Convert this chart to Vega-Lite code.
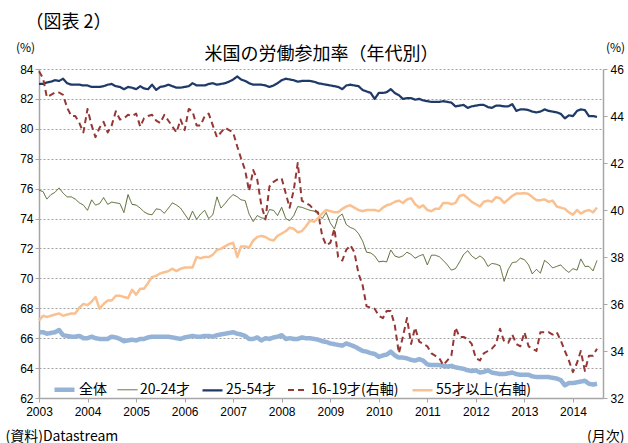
{
  "$schema": "https://vega.github.io/schema/vega-lite/v6.json",
  "width": 564,
  "height": 329,
  "autosize": {"type": "none"},
  "padding": {"left": 39, "top": 69, "right": 25, "bottom": 45},
  "background": "#ffffff",
  "config": {
    "view": {"stroke": null},
    "font": "Noto Sans CJK JP",
    "axis": {"labelFont": "Liberation Sans", "labelFontSize": 12, "labelColor": "#000000", "titleColor": "#000000", "titleFont": "Noto Sans CJK JP", "titleFontWeight": "normal", "labelFlush": false, "labelOverlap": false, "labelBound": false},
    "legend": {"orient": "none", "legendX": 13, "legendY": 308, "direction": "horizontal", "symbolType": "stroke", "symbolSize": 400, "labelFont": "Noto Sans CJK JP", "labelFontSize": 14, "labelColor": "#000000", "columnPadding": 8, "labelOffset": 2, "padding": 0}
  },
  "data": {"values": [
    {"月":"2003-01-01","全体":66.4,"20-24才":75.9,"25-54才":83.0,"16-19才(右軸)":45.9,"55才以上(右軸)":35.3},
    {"月":"2003-02-01","全体":66.4,"20-24才":75.8,"25-54才":83.0,"16-19才(右軸)":45.6,"55才以上(右軸)":35.5},
    {"月":"2003-03-01","全体":66.3,"20-24才":75.3,"25-54才":83.1,"16-19才(右軸)":44.8,"55才以上(右軸)":35.45},
    {"月":"2003-04-01","全体":66.35,"20-24才":75.6,"25-54才":83.15,"16-19才(右軸)":44.9,"55才以上(右軸)":35.5},
    {"月":"2003-05-01","全体":66.4,"20-24才":75.75,"25-54才":83.25,"16-19才(右軸)":45.0,"55才以上(右軸)":35.55},
    {"月":"2003-06-01","全体":66.55,"20-24才":76.05,"25-54才":83.2,"16-19才(右軸)":45.0,"55才以上(右軸)":35.6},
    {"月":"2003-07-01","全体":66.2,"20-24才":75.7,"25-54才":83.35,"16-19才(右軸)":44.9,"55才以上(右軸)":35.5},
    {"月":"2003-08-01","全体":66.15,"20-24才":75.45,"25-54才":83.05,"16-19才(右軸)":44.35,"55才以上(右軸)":35.55},
    {"月":"2003-09-01","全体":66.1,"20-24才":75.45,"25-54才":82.95,"16-19才(右軸)":44.0,"55才以上(右軸)":35.6},
    {"月":"2003-10-01","全体":66.1,"20-24才":75.3,"25-54才":82.95,"16-19才(右軸)":44.0,"55才以上(右軸)":35.6},
    {"月":"2003-11-01","全体":66.15,"20-24才":75.05,"25-54才":82.95,"16-19才(右軸)":43.7,"55才以上(右軸)":35.85},
    {"月":"2003-12-01","全体":66.0,"20-24才":74.9,"25-54才":82.9,"16-19才(右軸)":43.3,"55才以上(右軸)":36.0},
    {"月":"2004-01-01","全体":66.0,"20-24才":74.55,"25-54才":82.9,"16-19才(右軸)":44.3,"55才以上(右軸)":35.95},
    {"月":"2004-02-01","全体":66.1,"20-24才":75.25,"25-54才":82.8,"16-19才(右軸)":43.6,"55才以上(右軸)":36.1},
    {"月":"2004-03-01","全体":66.0,"20-24才":74.9,"25-54才":82.8,"16-19才(右軸)":43.1,"55才以上(右軸)":36.3},
    {"月":"2004-04-01","全体":65.95,"20-24才":75.0,"25-54才":82.8,"16-19才(右軸)":43.5,"55才以上(右軸)":35.8},
    {"月":"2004-05-01","全体":65.95,"20-24才":75.4,"25-54才":82.85,"16-19才(右軸)":43.75,"55才以上(右軸)":36.0},
    {"月":"2004-06-01","全体":65.95,"20-24才":74.95,"25-54才":82.95,"16-19才(右軸)":43.3,"55才以上(右軸)":36.15},
    {"月":"2004-07-01","全体":66.1,"20-24才":75.1,"25-54才":83.0,"16-19才(右軸)":43.6,"55才以上(右軸)":36.15},
    {"月":"2004-08-01","全体":66.05,"20-24才":75.05,"25-54才":82.85,"16-19才(右軸)":44.2,"55才以上(右軸)":36.35},
    {"月":"2004-09-01","全体":65.95,"20-24才":75.0,"25-54才":82.8,"16-19才(右軸)":43.85,"55才以上(右軸)":36.35},
    {"月":"2004-10-01","全体":65.8,"20-24才":74.4,"25-54才":82.65,"16-19才(右軸)":43.9,"55才以上(右軸)":36.3},
    {"月":"2004-11-01","全体":65.85,"20-24才":75.6,"25-54才":82.8,"16-19才(右軸)":44.05,"55才以上(右軸)":36.25},
    {"月":"2004-12-01","全体":65.9,"20-24才":74.95,"25-54才":82.75,"16-19才(右軸)":44.0,"55才以上(右軸)":36.6},
    {"月":"2005-01-01","全体":65.85,"20-24才":74.9,"25-54才":82.65,"16-19才(右軸)":44.1,"55才以上(右軸)":36.4},
    {"月":"2005-02-01","全体":65.95,"20-24才":74.7,"25-54才":82.85,"16-19才(右軸)":43.55,"55才以上(右軸)":36.65},
    {"月":"2005-03-01","全体":65.95,"20-24才":74.45,"25-54才":82.7,"16-19才(右軸)":43.9,"55才以上(右軸)":36.65},
    {"月":"2005-04-01","全体":66.05,"20-24才":74.3,"25-54才":82.65,"16-19才(右軸)":44.0,"55才以上(右軸)":36.9},
    {"月":"2005-05-01","全体":66.1,"20-24才":74.25,"25-54才":82.95,"16-19才(右軸)":44.05,"55才以上(右軸)":37.15},
    {"月":"2005-06-01","全体":66.1,"20-24才":74.65,"25-54才":82.6,"16-19才(右軸)":43.8,"55才以上(右軸)":37.2},
    {"月":"2005-07-01","全体":66.1,"20-24才":74.6,"25-54才":82.8,"16-19才(右軸)":43.7,"55才以上(右軸)":37.3},
    {"月":"2005-08-01","全体":66.1,"20-24才":74.35,"25-54才":82.85,"16-19才(右軸)":44.05,"55才以上(右軸)":37.35},
    {"月":"2005-09-01","全体":66.1,"20-24才":74.7,"25-54才":82.95,"16-19才(右軸)":43.8,"55才以上(右軸)":37.4},
    {"月":"2005-10-01","全体":66.05,"20-24才":75.05,"25-54才":82.85,"16-19才(右軸)":43.55,"55才以上(右軸)":37.5},
    {"月":"2005-11-01","全体":66.0,"20-24才":74.9,"25-54才":82.75,"16-19才(右軸)":43.3,"55才以上(右軸)":37.4},
    {"月":"2005-12-01","全体":65.95,"20-24才":74.7,"25-54才":82.75,"16-19才(右軸)":43.85,"55才以上(右軸)":37.5},
    {"月":"2006-01-01","全体":66.05,"20-24才":74.3,"25-54才":82.8,"16-19才(右軸)":43.4,"55才以上(右軸)":37.55},
    {"月":"2006-02-01","全体":66.1,"20-24才":73.9,"25-54才":82.85,"16-19才(右軸)":44.3,"55才以上(右軸)":37.55},
    {"月":"2006-03-01","全体":66.15,"20-24才":74.5,"25-54才":83.05,"16-19才(右軸)":44.2,"55才以上(右軸)":37.55},
    {"月":"2006-04-01","全体":66.1,"20-24才":73.95,"25-54才":82.9,"16-19才(右軸)":43.6,"55才以上(右軸)":38.0},
    {"月":"2006-05-01","全体":66.1,"20-24才":74.3,"25-54才":82.9,"16-19才(右軸)":43.6,"55才以上(右軸)":37.95},
    {"月":"2006-06-01","全体":66.15,"20-24才":74.55,"25-54才":82.9,"16-19才(右軸)":44.0,"55才以上(右軸)":38.0},
    {"月":"2006-07-01","全体":66.15,"20-24才":74.0,"25-54才":83.0,"16-19才(右軸)":44.1,"55才以上(右軸)":38.0},
    {"月":"2006-08-01","全体":66.1,"20-24才":74.25,"25-54才":83.05,"16-19才(右軸)":43.6,"55才以上(右軸)":38.1},
    {"月":"2006-09-01","全体":66.2,"20-24才":75.45,"25-54才":82.95,"16-19才(右軸)":43.1,"55才以上(右軸)":38.3},
    {"月":"2006-10-01","全体":66.25,"20-24才":74.7,"25-54才":83.0,"16-19才(右軸)":43.3,"55才以上(右軸)":38.35},
    {"月":"2006-11-01","全体":66.3,"20-24才":75.0,"25-54才":83.05,"16-19才(右軸)":43.5,"55才以上(右軸)":38.45},
    {"月":"2006-12-01","全体":66.35,"20-24才":75.35,"25-54才":83.15,"16-19才(右軸)":43.4,"55才以上(右軸)":38.55},
    {"月":"2007-01-01","全体":66.4,"20-24才":75.6,"25-54才":83.3,"16-19才(右軸)":43.3,"55才以上(右軸)":38.6},
    {"月":"2007-02-01","全体":66.3,"20-24才":75.45,"25-54才":83.5,"16-19才(右軸)":42.7,"55才以上(右軸)":38.0},
    {"月":"2007-03-01","全体":66.25,"20-24才":75.25,"25-54才":83.3,"16-19才(右軸)":42.2,"55才以上(右軸)":38.45},
    {"月":"2007-04-01","全体":66.15,"20-24才":75.2,"25-54才":83.2,"16-19才(右軸)":41.7,"55才以上(右軸)":38.45},
    {"月":"2007-05-01","全体":65.95,"20-24才":74.3,"25-54才":83.05,"16-19才(右軸)":40.8,"55才以上(右軸)":38.4},
    {"月":"2007-06-01","全体":65.95,"20-24才":73.8,"25-54才":82.95,"16-19才(右軸)":41.7,"55才以上(右軸)":38.7},
    {"月":"2007-07-01","全体":66.05,"20-24才":74.2,"25-54才":82.95,"16-19才(右軸)":41.3,"55才以上(右軸)":38.85},
    {"月":"2007-08-01","全体":65.85,"20-24才":74.05,"25-54才":82.95,"16-19才(右軸)":40.2,"55才以上(右軸)":38.9},
    {"月":"2007-09-01","全体":66.0,"20-24才":74.0,"25-54才":82.9,"16-19才(右軸)":39.6,"55才以上(右軸)":38.85},
    {"月":"2007-10-01","全体":65.95,"20-24才":74.6,"25-54才":82.8,"16-19才(右軸)":41.0,"55才以上(右軸)":38.75},
    {"月":"2007-11-01","全体":66.05,"20-24才":74.55,"25-54才":82.9,"16-19才(右軸)":41.2,"55才以上(右軸)":38.7},
    {"月":"2007-12-01","全体":66.1,"20-24才":74.2,"25-54才":83.05,"16-19才(右軸)":41.3,"55才以上(右軸)":38.9},
    {"月":"2008-01-01","全体":66.2,"20-24才":74.75,"25-54才":83.25,"16-19才(右軸)":41.35,"55才以上(右軸)":39.0},
    {"月":"2008-02-01","全体":65.95,"20-24才":74.0,"25-54才":83.35,"16-19才(右軸)":40.7,"55才以上(右軸)":39.1},
    {"月":"2008-03-01","全体":66.0,"20-24才":73.85,"25-54才":83.3,"16-19才(右軸)":40.1,"55才以上(右軸)":39.25},
    {"月":"2008-04-01","全体":65.95,"20-24才":74.2,"25-54才":83.25,"16-19才(右軸)":40.85,"55才以上(右軸)":39.2},
    {"月":"2008-05-01","全体":65.95,"20-24才":74.8,"25-54才":83.15,"16-19才(右軸)":42.0,"55才以上(右軸)":39.05},
    {"月":"2008-06-01","全体":66.05,"20-24才":74.75,"25-54才":83.2,"16-19才(右軸)":40.4,"55才以上(右軸)":39.1},
    {"月":"2008-07-01","全体":66.0,"20-24才":74.65,"25-54才":83.2,"16-19才(右軸)":40.3,"55才以上(右軸)":39.3},
    {"月":"2008-08-01","全体":66.0,"20-24才":74.55,"25-54才":83.2,"16-19才(右軸)":40.2,"55才以上(右軸)":39.55},
    {"月":"2008-09-01","全体":65.95,"20-24才":74.5,"25-54才":83.15,"16-19才(右軸)":40.0,"55才以上(右軸)":39.5},
    {"月":"2008-10-01","全体":65.9,"20-24才":74.3,"25-54才":83.05,"16-19才(右軸)":39.9,"55才以上(右軸)":39.65},
    {"月":"2008-11-01","全体":65.8,"20-24才":74.0,"25-54才":83.0,"16-19才(右軸)":38.9,"55才以上(右軸)":39.85},
    {"月":"2008-12-01","全体":65.75,"20-24才":74.4,"25-54才":82.95,"16-19才(右軸)":38.5,"55才以上(右軸)":40.0},
    {"月":"2009-01-01","全体":65.65,"20-24才":73.7,"25-54才":82.9,"16-19才(右軸)":38.6,"55才以上(右軸)":39.95},
    {"月":"2009-02-01","全体":65.6,"20-24才":73.3,"25-54才":82.85,"16-19才(右軸)":39.2,"55才以上(右軸)":39.9},
    {"月":"2009-03-01","全体":65.55,"20-24才":74.1,"25-54才":82.8,"16-19才(右軸)":38.0,"55才以上(右軸)":39.9},
    {"月":"2009-04-01","全体":65.5,"20-24才":74.3,"25-54才":82.65,"16-19才(右軸)":37.85,"55才以上(右軸)":40.05},
    {"月":"2009-05-01","全体":65.65,"20-24才":73.6,"25-54才":82.9,"16-19才(右軸)":38.3,"55才以上(右軸)":40.15},
    {"月":"2009-06-01","全体":65.55,"20-24才":73.4,"25-54才":82.95,"16-19才(右軸)":38.5,"55才以上(右軸)":40.2},
    {"月":"2009-07-01","全体":65.45,"20-24才":73.3,"25-54才":82.9,"16-19才(右軸)":38.2,"55才以上(右軸)":40.1},
    {"月":"2009-08-01","全体":65.3,"20-24才":73.0,"25-54才":82.85,"16-19才(右軸)":37.3,"55才以上(右軸)":40.0},
    {"月":"2009-09-01","全体":65.15,"20-24才":72.5,"25-54才":82.6,"16-19才(右軸)":36.8,"55才以上(右軸)":39.95},
    {"月":"2009-10-01","全体":65.1,"20-24才":71.75,"25-54才":82.5,"16-19才(右軸)":35.9,"55才以上(右軸)":40.0},
    {"月":"2009-11-01","全体":65.0,"20-24才":71.7,"25-54才":82.4,"16-19才(右軸)":35.85,"55才以上(右軸)":40.0},
    {"月":"2009-12-01","全体":64.95,"20-24才":71.5,"25-54才":82.0,"16-19才(右軸)":35.8,"55才以上(右軸)":40.0},
    {"月":"2010-01-01","全体":64.75,"20-24才":71.1,"25-54才":82.4,"16-19才(右軸)":35.5,"55才以上(右軸)":39.95},
    {"月":"2010-02-01","全体":64.85,"20-24才":71.15,"25-54才":82.4,"16-19才(右軸)":35.4,"55才以上(右軸)":40.1},
    {"月":"2010-03-01","全体":64.9,"20-24才":71.1,"25-54才":82.45,"16-19才(右軸)":35.7,"55才以上(右軸)":40.2},
    {"月":"2010-04-01","全体":65.1,"20-24才":71.9,"25-54才":82.65,"16-19才(右軸)":35.7,"55才以上(右軸)":40.25},
    {"月":"2010-05-01","全体":64.85,"20-24才":71.5,"25-54才":82.4,"16-19才(右軸)":35.1,"55才以上(右軸)":40.35},
    {"月":"2010-06-01","全体":64.7,"20-24才":71.4,"25-54才":82.25,"16-19才(右軸)":33.9,"55才以上(右軸)":40.4},
    {"月":"2010-07-01","全体":64.7,"20-24才":71.5,"25-54才":82.0,"16-19才(右軸)":34.6,"55才以上(右軸)":40.3},
    {"月":"2010-08-01","全体":64.65,"20-24才":71.75,"25-54才":82.05,"16-19才(右軸)":35.4,"55才以上(右軸)":40.45},
    {"月":"2010-09-01","全体":64.55,"20-24才":71.6,"25-54才":82.05,"16-19才(右軸)":34.3,"55才以上(右軸)":40.5},
    {"月":"2010-10-01","全体":64.5,"20-24才":71.35,"25-54才":81.95,"16-19才(右軸)":35.0,"55才以上(右軸)":40.25},
    {"月":"2010-11-01","全体":64.6,"20-24才":71.5,"25-54才":82.0,"16-19才(右軸)":34.4,"55才以上(右軸)":40.1},
    {"月":"2010-12-01","全体":64.5,"20-24才":71.6,"25-54才":81.9,"16-19才(右軸)":34.3,"55才以上(右軸)":40.2},
    {"月":"2011-01-01","全体":64.25,"20-24才":70.9,"25-54才":81.85,"16-19才(右軸)":34.2,"55才以上(右軸)":40.0},
    {"月":"2011-02-01","全体":64.2,"20-24才":71.55,"25-54才":81.8,"16-19才(右軸)":33.9,"55才以上(右軸)":39.95},
    {"月":"2011-03-01","全体":64.2,"20-24才":71.55,"25-54才":81.8,"16-19才(右軸)":33.8,"55才以上(右軸)":40.05},
    {"月":"2011-04-01","全体":64.2,"20-24才":71.45,"25-54才":81.8,"16-19才(右軸)":33.7,"55才以上(右軸)":40.05},
    {"月":"2011-05-01","全体":64.15,"20-24才":71.2,"25-54才":81.85,"16-19才(右軸)":33.4,"55才以上(右軸)":40.3},
    {"月":"2011-06-01","全体":64.1,"20-24才":70.9,"25-54才":81.8,"16-19才(右軸)":33.6,"55才以上(右軸)":40.3},
    {"月":"2011-07-01","全体":64.15,"20-24才":70.55,"25-54才":81.75,"16-19才(右軸)":33.8,"55才以上(右軸)":40.25},
    {"月":"2011-08-01","全体":64.05,"20-24才":70.65,"25-54才":81.5,"16-19才(右軸)":35.0,"55才以上(右軸)":40.3},
    {"月":"2011-09-01","全体":64.0,"20-24才":71.1,"25-54才":81.55,"16-19才(右軸)":34.6,"55才以上(右軸)":40.6},
    {"月":"2011-10-01","全体":63.95,"20-24才":71.6,"25-54才":81.6,"16-19才(右軸)":34.6,"55才以上(右軸)":40.65},
    {"月":"2011-11-01","全体":63.85,"20-24才":71.85,"25-54才":81.4,"16-19才(右軸)":34.5,"55才以上(右軸)":40.5},
    {"月":"2011-12-01","全体":63.8,"20-24才":71.5,"25-54才":81.5,"16-19才(右軸)":34.3,"55才以上(右軸)":40.35},
    {"月":"2012-01-01","全体":63.85,"20-24才":71.3,"25-54才":81.55,"16-19才(右軸)":33.7,"55才以上(右軸)":40.25},
    {"月":"2012-02-01","全体":63.7,"20-24才":71.5,"25-54才":81.6,"16-19才(右軸)":33.6,"55才以上(右軸)":40.15},
    {"月":"2012-03-01","全体":63.75,"20-24才":71.3,"25-54才":81.6,"16-19才(右軸)":33.9,"55才以上(右軸)":40.35},
    {"月":"2012-04-01","全体":63.85,"20-24才":70.8,"25-54才":81.45,"16-19才(右軸)":34.0,"55才以上(右軸)":40.4},
    {"月":"2012-05-01","全体":63.7,"20-24才":71.0,"25-54才":81.4,"16-19才(右軸)":34.1,"55才以上(右軸)":40.35},
    {"月":"2012-06-01","全体":63.65,"20-24才":70.95,"25-54才":81.55,"16-19才(右軸)":34.3,"55才以上(右軸)":40.55},
    {"月":"2012-07-01","全体":63.6,"20-24才":70.85,"25-54才":81.55,"16-19才(右軸)":34.95,"55才以上(右軸)":40.5},
    {"月":"2012-08-01","全体":63.6,"20-24才":69.8,"25-54才":81.5,"16-19才(右軸)":34.4,"55才以上(右軸)":40.3},
    {"月":"2012-09-01","全体":63.65,"20-24才":70.6,"25-54才":81.5,"16-19才(右軸)":34.35,"55才以上(右軸)":40.45},
    {"月":"2012-10-01","全体":63.7,"20-24才":71.05,"25-54才":81.65,"16-19才(右軸)":34.7,"55才以上(右軸)":40.6},
    {"月":"2012-11-01","全体":63.6,"20-24才":71.1,"25-54才":81.2,"16-19才(右軸)":34.3,"55才以上(右軸)":40.7},
    {"月":"2012-12-01","全体":63.55,"20-24才":71.35,"25-54才":81.3,"16-19才(右軸)":34.2,"55才以上(右軸)":40.7},
    {"月":"2013-01-01","全体":63.55,"20-24才":71.25,"25-54才":81.3,"16-19才(右軸)":34.8,"55才以上(右軸)":40.72},
    {"月":"2013-02-01","全体":63.55,"20-24才":70.9,"25-54才":81.25,"16-19才(右軸)":34.2,"55才以上(右軸)":40.68},
    {"月":"2013-03-01","全体":63.45,"20-24才":70.3,"25-54才":81.15,"16-19才(右軸)":34.1,"55才以上(右軸)":40.55},
    {"月":"2013-04-01","全体":63.4,"20-24才":70.6,"25-54才":81.1,"16-19才(右軸)":34.0,"55才以上(右軸)":40.42},
    {"月":"2013-05-01","全体":63.4,"20-24才":70.35,"25-54才":81.15,"16-19才(右軸)":34.8,"55才以上(右軸)":40.42},
    {"月":"2013-06-01","全体":63.4,"20-24才":71.2,"25-54才":81.3,"16-19才(右軸)":34.8,"55才以上(右軸)":40.45},
    {"月":"2013-07-01","全体":63.4,"20-24才":71.0,"25-54才":81.2,"16-19才(右軸)":34.8,"55才以上(右軸)":40.35},
    {"月":"2013-08-01","全体":63.35,"20-24才":70.7,"25-54才":81.15,"16-19才(右軸)":34.7,"55才以上(右軸)":40.4},
    {"月":"2013-09-01","全体":63.3,"20-24才":70.8,"25-54才":81.1,"16-19才(右軸)":34.8,"55才以上(右軸)":40.15},
    {"月":"2013-10-01","全体":63.2,"20-24才":70.9,"25-54才":81.0,"16-19才(右軸)":34.45,"55才以上(右軸)":40.1},
    {"月":"2013-11-01","全体":62.85,"20-24才":70.6,"25-54才":80.7,"16-19才(右軸)":34.0,"55才以上(右軸)":40.05},
    {"月":"2013-12-01","全体":63.0,"20-24才":70.4,"25-54才":80.9,"16-19才(右軸)":33.6,"55才以上(右軸)":39.9},
    {"月":"2014-01-01","全体":63.0,"20-24才":70.65,"25-54才":80.85,"16-19才(右軸)":33.1,"55才以上(右軸)":39.8},
    {"月":"2014-02-01","全体":63.05,"20-24才":70.55,"25-54才":81.2,"16-19才(右軸)":33.5,"55才以上(右軸)":40.0},
    {"月":"2014-03-01","全体":63.1,"20-24才":71.3,"25-54才":81.3,"16-19才(右軸)":34.0,"55才以上(右軸)":39.85},
    {"月":"2014-04-01","全体":63.15,"20-24才":70.8,"25-54才":81.25,"16-19才(右軸)":33.15,"55才以上(右軸)":39.95},
    {"月":"2014-05-01","全体":62.95,"20-24才":70.8,"25-54才":80.85,"16-19才(右軸)":33.8,"55才以上(右軸)":40.0},
    {"月":"2014-06-01","全体":62.9,"20-24才":70.5,"25-54才":80.85,"16-19才(右軸)":33.8,"55才以上(右軸)":39.9},
    {"月":"2014-07-01","全体":62.95,"20-24才":71.2,"25-54才":80.8,"16-19才(右軸)":34.1,"55才以上(右軸)":40.1}
  ]},
  "encoding": {
    "color": {"field": "系列", "type": "nominal", "title": null,
      "scale": {"domain": ["全体", "20-24才", "25-54才", "16-19才(右軸)", "55才以上(右軸)"], "range": ["#95b3d7", "#4f6228", "#1f3a68", "#953735", "#fac090"]}},
    "strokeWidth": {"field": "系列", "type": "nominal", "title": null,
      "scale": {"type": "ordinal", "domain": ["全体", "20-24才", "25-54才", "16-19才(右軸)", "55才以上(右軸)"], "range": [4.5, 1, 2.25, 2, 2.5]}},
    "strokeDash": {"field": "系列", "type": "nominal", "title": null,
      "scale": {"domain": ["全体", "20-24才", "25-54才", "16-19才(右軸)", "55才以上(右軸)"], "range": [[1, 0], [1, 0], [1, 0], [6, 4], [1, 0]]}}
  },
  "layer": [
    {
      "transform": [{"fold": ["全体", "20-24才"], "as": ["系列", "値"]}],
      "mark": {"type": "line", "strokeJoin": "round"},
      "encoding": {
        "x": {"field": "月", "type": "temporal", "scale": {"domain": ["2003-01-01", "2014-08-15"]},
          "axis": {"orient": "bottom", "format": "%Y", "tickCount": {"interval": "year", "step": 1}, "grid": false, "domainColor": "#a6a6a6", "domainWidth": 1.5, "tickColor": "#a6a6a6", "tickSize": 4, "labelPadding": 4,
            "title": "(資料)Datastream", "titleX": -34, "titleY": 38, "titleAlign": "left", "titleBaseline": "middle", "titleFontSize": 14}},
        "y": {"field": "値", "type": "quantitative", "scale": {"domain": [62, 84], "nice": false, "zero": false},
          "axis": {"orient": "left", "values": [62, 64, 66, 68, 70, 72, 74, 76, 78, 80, 82, 84], "grid": true, "gridColor": "#a0a0a0", "gridDash": [2, 2], "gridWidth": 1, "domainColor": "#a6a6a6", "domainWidth": 1.5, "tickColor": "#a6a6a6", "tickSize": 4, "labelPadding": 2,
            "title": "(%)", "titleAngle": 0, "titleX": -14, "titleY": -22, "titleAlign": "center", "titleBaseline": "middle", "titleFontSize": 12}}
      }
    },
    {
      "transform": [{"fold": ["25-54才"], "as": ["系列", "値"]}],
      "mark": {"type": "line", "strokeJoin": "round"},
      "encoding": {
        "x": {"field": "月", "type": "temporal", "scale": {"domain": ["2003-01-01", "2014-08-15"]},
          "axis": {"orient": "top", "labels": false, "ticks": false, "domain": false, "grid": false,
            "title": "米国の労働参加率（年代別）", "titleX": 282, "titleY": -15, "titleAlign": "center", "titleBaseline": "middle", "titleFontSize": 18}},
        "y": {"field": "値", "type": "quantitative", "scale": {"domain": [62, 84], "nice": false, "zero": false}, "axis": null}
      }
    },
    {
      "transform": [{"fold": ["16-19才(右軸)"], "as": ["系列", "値"]}],
      "mark": {"type": "line", "strokeJoin": "round"},
      "encoding": {
        "x": {"field": "月", "type": "temporal", "scale": {"domain": ["2003-01-01", "2014-08-15"]},
          "axis": {"orient": "top", "labels": false, "ticks": false, "domain": false, "grid": false,
            "title": "（図表 2）", "titleX": -14, "titleY": -47, "titleAlign": "left", "titleBaseline": "middle", "titleFontSize": 18}},
        "y": {"field": "値", "type": "quantitative", "scale": {"domain": [32, 46], "nice": false, "zero": false},
          "axis": {"orient": "right", "values": [32, 34, 36, 38, 40, 42, 44, 46], "grid": false, "domainColor": "#a6a6a6", "domainWidth": 1.5, "tickColor": "#a6a6a6", "tickSize": 4, "labelPadding": 3,
            "title": "(%)", "titleAngle": 0, "titleX": 12, "titleY": -22, "titleAlign": "center", "titleBaseline": "middle", "titleFontSize": 12}}
      }
    },
    {
      "transform": [{"fold": ["55才以上(右軸)"], "as": ["系列", "値"]}],
      "mark": {"type": "line", "strokeJoin": "round"},
      "encoding": {
        "x": {"field": "月", "type": "temporal", "scale": {"domain": ["2003-01-01", "2014-08-15"]},
          "axis": {"orient": "bottom", "labels": false, "ticks": false, "domain": false, "grid": false,
            "title": "(月次)", "titleX": 585, "titleY": 38, "titleAlign": "right", "titleBaseline": "middle", "titleFontSize": 14}},
        "y": {"field": "値", "type": "quantitative", "scale": {"domain": [32, 46], "nice": false, "zero": false}, "axis": null}
      }
    }
  ],
  "resolve": {"scale": {"x": "independent", "y": "independent"}, "axis": {"x": "independent", "y": "independent"}}
}
